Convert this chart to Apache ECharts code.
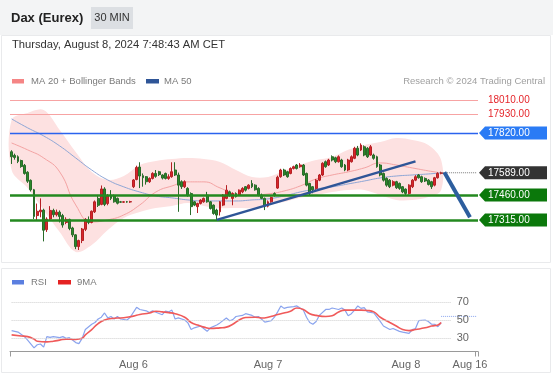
<!DOCTYPE html>
<html><head><meta charset="utf-8">
<script src="https://cdn.jsdelivr.net/npm/echarts@6/dist/echarts.min.js"></script>
<style>html,body{margin:0;padding:0;background:#fff;}#c{width:553px;height:375px;}</style>
</head><body><div id="c"></div>
<script>
// ---------- DATA ----------
const SLOTS = 146; // 30-min slots on the time axis (incl. empty future space)
const xTickIdx = [38, 80, 123, 143];
const xTickText = ['Aug 6', 'Aug 7', 'Aug 8', 'Aug 16'];

const candleOpen = [17711,17690,17682,17660,17632,17592,17545,17490,17340,17362,17372,17258,17320,17370,17345,17360,17340,17300,17318,17268,17228,17160,17195,17260,17315,17300,17362,17440,17405,17495,17410,17458,17455,17440,17420,17418,17420,17419,17508,17550,17622,17572,17566,17537,17556,17585,17595,17576,17585,17556,17566,17605,17576,17537,17508,17498,17468,17420,17392,17411,17420,17459,17420,17401,17372,17362,17401,17440,17478,17440,17468,17460,17478,17508,17498,17527,17517,17498,17459,17440,17395,17420,17468,17500,17566,17605,17595,17585,17614,17634,17624,17634,17585,17527,17508,17498,17546,17576,17653,17634,17682,17676,17653,17663,17634,17605,17653,17673,17731,17721,17740,17731,17692,17692,17682,17634,17585,17556,17546,17517,17537,17527,17508,17494,17469,17508,17546,17576,17566,17556,17546,17537,17517,17560,17585];
const candleClose = [17682,17678,17655,17625,17585,17540,17490,17335,17365,17372,17255,17320,17370,17345,17360,17335,17285,17318,17265,17228,17160,17195,17262,17318,17300,17365,17420,17400,17495,17405,17455,17440,17420,17412,17418,17420,17419,17421,17547,17620,17570,17560,17537,17556,17585,17568,17578,17558,17556,17566,17595,17576,17517,17508,17537,17459,17392,17401,17410,17430,17440,17420,17381,17352,17343,17420,17459,17488,17459,17468,17450,17488,17498,17488,17517,17508,17490,17459,17440,17395,17420,17445,17459,17563,17605,17576,17566,17614,17624,17614,17634,17576,17517,17470,17490,17546,17576,17644,17624,17663,17663,17653,17682,17624,17605,17663,17682,17731,17692,17750,17692,17682,17740,17673,17624,17576,17546,17517,17508,17537,17502,17498,17478,17469,17517,17546,17566,17560,17537,17541,17521,17508,17560,17585,17589];
const candleLow = [17640,17665,17645,17618,17578,17530,17480,17320,17315,17330,17190,17245,17310,17330,17335,17300,17270,17290,17255,17215,17145,17140,17180,17250,17290,17295,17355,17390,17400,17395,17400,17430,17415,17405,17414,17414,17415,17414,17500,17545,17500,17508,17520,17530,17550,17560,17570,17550,17550,17548,17560,17570,17362,17495,17500,17450,17343,17395,17355,17405,17415,17415,17375,17345,17315,17340,17395,17435,17450,17400,17445,17455,17470,17480,17492,17500,17485,17452,17435,17372,17388,17415,17450,17495,17560,17570,17560,17580,17608,17608,17618,17570,17510,17459,17470,17490,17540,17570,17618,17628,17655,17645,17648,17618,17598,17598,17648,17668,17685,17715,17685,17675,17688,17665,17618,17568,17538,17508,17500,17510,17495,17490,17470,17460,17462,17500,17540,17555,17530,17535,17515,17495,17510,17555,17580];
const candleHigh = [17720,17700,17690,17665,17640,17598,17550,17495,17410,17440,17380,17330,17395,17380,17375,17370,17350,17330,17322,17275,17232,17200,17268,17325,17335,17370,17428,17460,17515,17505,17465,17488,17462,17445,17425,17424,17425,17426,17552,17630,17650,17585,17570,17562,17592,17605,17600,17580,17590,17580,17650,17650,17590,17545,17545,17505,17475,17425,17415,17435,17445,17478,17425,17405,17380,17425,17465,17517,17485,17475,17475,17492,17505,17512,17522,17546,17522,17505,17468,17445,17428,17450,17475,17572,17612,17612,17600,17620,17630,17640,17645,17640,17590,17530,17512,17552,17582,17650,17660,17670,17690,17682,17690,17670,17640,17670,17690,17740,17745,17760,17748,17738,17750,17700,17688,17640,17590,17562,17552,17545,17542,17532,17512,17498,17522,17552,17575,17582,17572,17562,17552,17542,17565,17592,17595];

// overlays read at sample candle positions
const overlayIdx = [0,5,10,15,20,25,30,35,40,45,50,55,60,65,70,75,80,85,90,95,100,105,110,115,120,125,130,134];
const bandUpper = [17896,17937,17954,17838,17710,17594,17547,17570,17634,17658,17669,17675,17669,17652,17605,17565,17565,17600,17634,17663,17681,17722,17751,17768,17791,17780,17751,17663];
const bandLower = [17605,17501,17373,17245,17129,17169,17256,17326,17361,17384,17396,17413,17396,17384,17384,17384,17402,17419,17443,17460,17477,17489,17489,17460,17431,17431,17448,17489];
const ma20 = [17762,17722,17675,17594,17402,17303,17315,17344,17402,17477,17512,17536,17536,17501,17466,17460,17466,17483,17512,17553,17576,17594,17617,17646,17634,17617,17600,17588];
const ma50 = [17902,17850,17803,17745,17675,17605,17547,17507,17477,17454,17443,17431,17425,17425,17425,17431,17437,17454,17477,17495,17507,17524,17541,17559,17570,17576,17582,17588];

// levels
const levelValues = [18010, 17930, 17820, 17589, 17460, 17315];
const levelKinds  = ['res', 'res', 'blue', 'last', 'sup', 'sup'];
const lastPrice = 17589;
const trendIdx = [64, 126];
const trendVal = [17315, 17655];
const arrowIdx = [135, 143];
const arrowVal = [17592, 17330];

// RSI pane
const rsiIdx = [0,2,4,5,7,8,9,10,11,12,13,15,16,17,18,20,21,22,23,25,26,27,28,29,30,31,32,33,34,36,37,39,40,42,43,44,45,47,48,49,50,51,52,54,55,56,57,59,60,61,62,64,65,67,68,69,70,72,73,75,76,77,78,79,81,82,83,84,85,86,88,89,91,92,93,94,95,96,98,99,100,102,103,104,105,106,107,108,109,110,111,113,114,115,116,118,119,121,122,124,125,126,127,129,130,131,132,133,134];
const rsiVal = [38.2,36.6,31.5,27.6,19.0,22.5,23.3,19.8,31.5,30.7,31.5,30.4,31.5,29.6,30.4,24.9,23.7,29.6,39.4,45.3,47.2,51.1,53.1,57.8,52.3,53.9,51.1,53.9,51.1,50.0,53.1,64.1,61.7,60.2,58.2,60.2,58.6,55.9,59.8,59.0,61.0,51.1,52.3,50.0,46.8,39.4,41.3,43.3,40.2,37.4,41.3,44.5,46.8,52.3,49.2,50.4,53.9,55.1,57.0,55.1,53.1,53.9,50.8,47.6,49.2,53.1,59.0,65.6,62.9,64.1,64.9,65.6,61.0,53.1,47.2,45.3,48.4,55.1,61.7,61.7,63.3,61.7,63.3,61.0,54.7,57.0,61.0,65.6,62.9,63.7,59.0,57.8,53.1,48.4,43.3,39.4,40.6,37.4,36.6,35.1,39.4,40.6,49.2,50.0,48.4,45.3,45.3,42.5,47.2,54.0];
const ma9Idx = [0,3,5,7,8,11,13,15,17,20,22,23,25,27,29,32,34,36,38,40,43,45,47,49,51,54,56,58,60,62,65,67,69,71,73,76,78,80,82,84,87,89,91,93,95,98,100,102,104,107,109,111,113,115,118,120,122,124,126,129,131,133,134];
const ma9Val = [33.5,32.3,31.5,28.8,26.4,25.7,26.4,27.6,28.8,28.4,29.6,33.5,39.4,46.0,50.0,51.9,52.3,53.1,54.3,56.2,57.8,59.8,59.0,58.2,57.0,53.1,47.2,44.5,42.1,40.6,41.3,42.1,45.3,50.0,52.7,53.1,52.3,53.1,55.1,57.0,59.8,63.3,61.7,57.0,55.1,53.9,54.7,59.0,61.0,61.0,61.0,60.6,59.0,53.1,47.2,43.3,39.4,38.2,39.4,41.3,43.3,44.5,47.2];
const rsiLevels = [30, 50, 70];

// ---------- CHART ----------
const FONT = 'Liberation Sans, Arial, sans-serif';
const cats = Array.from({length: SLOTS}, (_, i) => String(i));
const candles = candleOpen.map((o, i) => [o, candleClose[i], candleLow[i], candleHigh[i]]);
const pairs = (ix, v) => ix.map((x, k) => [x, v[k]]);
const lastRsi = rsiVal[rsiVal.length - 1];

const levelStyle = {
  res:  {color: '#f7a3a3', width: 1},
  blue: {color: '#2b63ee', width: 1.3},
  sup:  {color: '#23891f', width: 2.5}
};
// one empty helper series per level style, each drawing its horizontal levels with markLine
const levelSeries = Object.keys(levelStyle).map(kind => ({
  type: 'line', name: 'lvl-' + kind, xAxisIndex: 0, yAxisIndex: 0, data: [], z: 4,
  color: levelStyle[kind].color,
  markLine: {silent: true, symbol: ['none', 'none'], label: {show: false},
    lineStyle: {color: levelStyle[kind].color, width: levelStyle[kind].width, type: 'solid', opacity: 1},
    emphasis: {disabled: true},
    data: levelValues.filter((v, k) => levelKinds[k] === kind).map(v => ({yAxis: v,
      lineStyle: {color: levelStyle[kind].color, width: levelStyle[kind].width}}))}
}));

const chart = echarts.init(document.getElementById('c'), null, {renderer: 'canvas'});
const option = {
  animation: false,
  textStyle: {fontFamily: FONT},
  grid: [
    {left: 10, width: 468, top: 90, height: 160},
    {left: 10, width: 468, top: 293, height: 58.5}
  ],
  xAxis: [
    {type: 'category', gridIndex: 0, data: cats, boundaryGap: true, show: false},
    {type: 'category', gridIndex: 1, data: cats, boundaryGap: true,
     axisLine: {lineStyle: {color: '#9a9a9a'}},
     axisTick: {show: true, length: 5, lineStyle: {color: '#9a9a9a'},
                interval: (i) => i === 0 || i === SLOTS - 1},
     axisLabel: {interval: 0, margin: 8, fontSize: 11, color: '#666', fontFamily: FONT,
       formatter: (v, i) => { const k = xTickIdx.indexOf(i); return k >= 0 ? xTickText[k] : ''; }},
     splitLine: {show: false}}
  ],
  yAxis: [
    {type: 'value', gridIndex: 0, min: 17140, max: 18070, show: false, splitLine: {show: false}},
    {type: 'value', gridIndex: 1, min: 15, max: 80, show: false, splitLine: {show: false}}
  ],
  series: [
    { // Bollinger band
      type: 'custom', xAxisIndex: 0, yAxisIndex: 0, data: [0], z: 1, silent: true,
      renderItem: (params, api) => {
        const up = overlayIdx.map((ix, k) => api.coord([ix, bandUpper[k]]));
        const lo = overlayIdx.map((ix, k) => api.coord([ix, bandLower[k]])).reverse();
        return {type: 'polygon', shape: {points: up.concat(lo), smooth: 0.35},
                style: {fill: '#fde1e1'}};
      }
    },
    {type: 'line', name: 'MA 20', xAxisIndex: 0, yAxisIndex: 0, data: pairs(overlayIdx, ma20),
     smooth: true, symbol: 'none', z: 2, lineStyle: {color: '#f4a3a3', width: 1}},
    {type: 'line', name: 'MA 50', xAxisIndex: 0, yAxisIndex: 0, data: pairs(overlayIdx, ma50),
     smooth: true, symbol: 'none', z: 2, lineStyle: {color: '#8ea6d6', width: 1}},
    {type: 'candlestick', xAxisIndex: 0, yAxisIndex: 0, data: candles, z: 3, barWidth: 2.4,
     itemStyle: {color: '#d8262b', color0: '#2b8a2b', borderColor: '#b52024', borderColor0: '#2a6b2a', borderWidth: 1}},
    ...levelSeries,
    {type: 'line', name: 'last', xAxisIndex: 0, yAxisIndex: 0,
     data: [[candleOpen.length - 1, lastPrice], [SLOTS - 1, lastPrice]],
     symbol: 'none', z: 4, lineStyle: {color: '#7a7a7a', width: 1, type: 'dotted'}},
    {type: 'line', name: 'trend', xAxisIndex: 0, yAxisIndex: 0, data: pairs(trendIdx, trendVal),
     symbol: 'none', z: 5, lineStyle: {color: '#2f5597', width: 2.5}},
    {type: 'line', name: 'arrow', xAxisIndex: 0, yAxisIndex: 0, data: [], z: 6,
     markLine: {silent: true, symbol: ['none', 'arrow'], symbolSize: [0, 18], label: {show: false},
       lineStyle: {color: '#2d5e9e', width: 4, type: 'solid'},
       data: [[{coord: [arrowIdx[0], arrowVal[0]]}, {coord: [arrowIdx[1], arrowVal[1]]}]]}},
    // RSI pane
    {type: 'line', name: 'RSI', xAxisIndex: 1, yAxisIndex: 1, data: pairs(rsiIdx, rsiVal),
     symbol: 'none', z: 3, lineStyle: {color: '#8aa4ee', width: 1.2},
     markLine: {silent: true, symbol: ['none', 'none'],
       lineStyle: {color: '#cfcfcf', type: 'dotted', width: 1},
       label: {show: true, position: 'end', distance: 6, color: '#666', fontSize: 11, fontFamily: FONT,
               formatter: (p) => String(p.value)},
       data: rsiLevels.map(v => [{coord: [0, v], value: v}, {coord: [137, v], value: v}])}},
    {type: 'line', name: 'RSIext', xAxisIndex: 1, yAxisIndex: 1,
     data: [[rsiIdx[rsiIdx.length - 1], lastRsi], [SLOTS - 1, lastRsi]],
     symbol: 'none', z: 3, lineStyle: {color: '#8aa4ee', width: 1, type: 'dotted'}},
    {type: 'line', name: '9MA', xAxisIndex: 1, yAxisIndex: 1, data: pairs(ma9Idx, ma9Val),
     smooth: true, symbol: 'none', z: 4, lineStyle: {color: '#f05a5a', width: 1.6}}
  ]
};
chart.setOption(option);

// ---------- decorations & right-hand labels (positions from the chart's own scales) ----------
const g = [];
g.push({type: 'rect', z: -10, shape: {x: 0, y: 0, width: 553, height: 35}, style: {fill: '#f3f4f5'}});
g.push({type: 'rect', z: -10, shape: {x: 1.5, y: 35.5, width: 549, height: 227}, style: {fill: 'none', stroke: '#e9eaec', lineWidth: 1}});
g.push({type: 'rect', z: -10, shape: {x: 1.5, y: 268.5, width: 549, height: 104}, style: {fill: 'none', stroke: '#e9eaec', lineWidth: 1}});
g.push({type: 'text', x: 11, y: 18, style: {text: 'Dax (Eurex)', font: 'bold 13px ' + FONT, fill: '#222', textVerticalAlign: 'middle'}});
g.push({type: 'rect', shape: {x: 91, y: 7, width: 42, height: 22}, style: {fill: '#dcdfe3'}});
g.push({type: 'text', x: 112, y: 18, style: {text: '30 MIN', font: '11px ' + FONT, fill: '#333', textAlign: 'center', textVerticalAlign: 'middle'}});
g.push({type: 'text', x: 12, y: 45, style: {text: 'Thursday, August 8, 2024 7:48:43 AM CET', font: '11.2px ' + FONT, fill: '#333', textVerticalAlign: 'middle'}});
// legends
g.push({type: 'rect', shape: {x: 12, y: 79, width: 12, height: 4.5}, style: {fill: '#f58585'}});
g.push({type: 'text', x: 31, y: 81.5, style: {text: 'MA 20 + Bollinger Bands', font: '9.5px ' + FONT, fill: '#7a7a7a', textVerticalAlign: 'middle'}});
g.push({type: 'rect', shape: {x: 146, y: 79, width: 13, height: 4.5}, style: {fill: '#2f5597'}});
g.push({type: 'text', x: 164, y: 81.5, style: {text: 'MA 50', font: '9.5px ' + FONT, fill: '#7a7a7a', textVerticalAlign: 'middle'}});
g.push({type: 'text', x: 545, y: 81.5, style: {text: 'Research \u00a9 2024 Trading Central', font: '9.5px ' + FONT, fill: '#a0a0a0', textAlign: 'right', textVerticalAlign: 'middle'}});
g.push({type: 'rect', shape: {x: 12, y: 280, width: 12, height: 4.5}, style: {fill: '#5b7fe0'}});
g.push({type: 'text', x: 31, y: 282.5, style: {text: 'RSI', font: '9.5px ' + FONT, fill: '#7a7a7a', textVerticalAlign: 'middle'}});
g.push({type: 'rect', shape: {x: 58, y: 280, width: 13, height: 4.5}, style: {fill: '#e52222'}});
g.push({type: 'text', x: 77, y: 282.5, style: {text: '9MA', font: '9.5px ' + FONT, fill: '#7a7a7a', textVerticalAlign: 'middle'}});

const labelFill = {blue: '#2a7bf5', last: '#333333', sup: '#0b780b'};
const xr = 479;
levelValues.forEach((v, k) => {
  const y = chart.convertToPixel({yAxisIndex: 0}, v);
  const kind = levelKinds[k];
  const txt = v.toFixed(2);
  if (kind === 'res') {
    g.push({type: 'text', x: 488, y: y, style: {text: txt, font: '10px ' + FONT, fill: '#e5262b', textVerticalAlign: 'middle'}});
  } else {
    g.push({type: 'polygon', shape: {points: [[xr, y], [xr + 6, y - 6.5], [547, y - 6.5], [547, y + 6.5], [xr + 6, y + 6.5]]},
            style: {fill: labelFill[kind]}});
    g.push({type: 'text', x: 488, y: y, style: {text: txt, font: '10px ' + FONT, fill: '#fff', textVerticalAlign: 'middle'}});
  }
});
chart.setOption({graphic: g});
</script>
</body></html>
